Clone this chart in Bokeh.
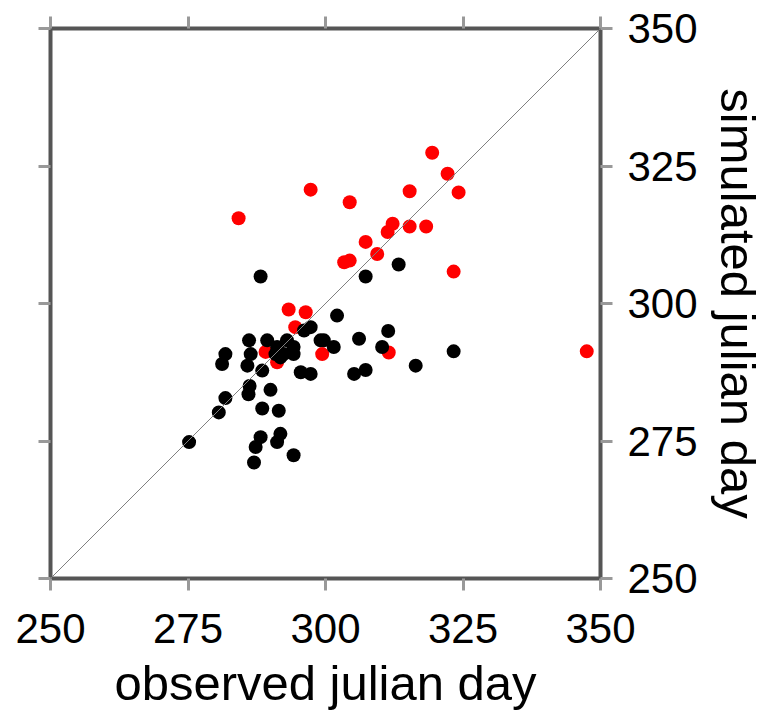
from bokeh.plotting import figure
from bokeh.models import Range1d, LinearAxis, FixedTicker, CustomJSTickFormatter, Slope, ColumnDataSource
from bokeh.embed import file_html
from bokeh.resources import INLINE

# axis range and ticks
axis_min = 250
axis_max = 350
ticks = [250, 275, 300, 325, 350]

# red series (observed, simulated)
red_obs = [284.2, 297.3, 304.4, 319.4, 322.2, 324.2, 315.3, 312.2, 311.3, 315.3,
           318.3, 307.3, 309.4, 303.4, 304.4, 323.3, 293.3, 296.4, 289.1, 291.2,
           299.4, 311.5, 347.5, 294.5]
red_sim = [315.5, 320.7, 318.4, 327.4, 323.6, 320.2, 320.4, 314.5, 313.0, 314.0,
           314.0, 311.2, 309.0, 307.5, 307.8, 305.8, 298.9, 298.4, 291.2, 289.3,
           290.8, 291.1, 291.3, 295.7]

# black series (observed, simulated)
black_obs = [275.2, 288.2, 307.3, 313.3, 302.1, 286.1, 289.4, 281.8, 281.2, 286.4,
             285.8, 288.5, 286.2, 286.0, 290.0, 290.9, 281.8, 280.6, 293.0, 292.4,
             296.1, 297.3, 294.2, 299.7, 301.5, 295.5, 297.3, 291.2, 288.5, 291.5,
             288.2, 287.3, 287.0, 291.8, 291.2, 294.2, 306.1, 311.4, 310.3, 323.3,
             316.4, 305.2, 307.3, 299.1, 291.8, 294.2]
black_sim = [274.8, 304.9, 304.9, 307.1, 297.8, 293.3, 293.3, 290.8, 289.0, 290.8,
             288.7, 287.8, 285.0, 283.5, 284.3, 290.8, 282.8, 280.2, 293.3, 290.8,
             295.1, 295.7, 292.1, 293.3, 292.1, 287.5, 287.2, 292.1, 280.9, 280.5,
             275.7, 273.9, 271.1, 276.3, 274.8, 272.4, 293.6, 295.0, 292.1, 291.3,
             288.7, 287.2, 287.9, 293.3, 290.2, 290.8]

FONT = "Liberation Sans"
TICK_COLOR = "#999999"
FRAME_COLOR = "#555555"

p = figure(frame_width=550, frame_height=550,
           min_border_left=50, min_border_top=28, min_border_right=10, min_border_bottom=10,
           x_range=Range1d(axis_min, axis_max), y_range=Range1d(axis_min, axis_max),
           x_axis_location="below", y_axis_location="right",
           output_backend="svg", toolbar_location=None,
           background_fill_color="white", border_fill_color="white")

p.xgrid.visible = False
p.ygrid.visible = False
p.outline_line_color = FRAME_COLOR
p.outline_line_width = 4

def style_axis(ax, labels=True):
    ax.ticker = FixedTicker(ticks=ticks)
    ax.axis_line_color = None
    ax.major_tick_line_color = TICK_COLOR
    ax.major_tick_line_width = 3
    ax.major_tick_out = 12
    ax.major_tick_in = 0
    ax.minor_tick_line_color = None
    if labels:
        ax.major_label_text_font = FONT
        ax.major_label_text_font_size = "42px"
        ax.major_label_text_color = "black"
        ax.major_label_standoff = 15
        ax.axis_label_text_font = FONT
        ax.axis_label_text_font_size = "49px"
        ax.axis_label_text_font_style = "normal"
        ax.axis_label_text_color = "black"
    else:
        ax.formatter = CustomJSTickFormatter(code="return ''")

xax = p.xaxis[0]
style_axis(xax)
xax.axis_label = "observed julian day"
xax.major_label_standoff = 23
xax.axis_label_standoff = 10
xax.major_label_text_line_height = 1.0
xax.axis_label_text_line_height = 1.0

yax = p.yaxis[0]
style_axis(yax)
yax.axis_label = "simulated julian day"
yax.axis_label_standoff = 10
yax.major_label_text_align = "left"

left_ax = LinearAxis()
style_axis(left_ax, labels=False)
p.add_layout(left_ax, "left")
top_ax = LinearAxis()
style_axis(top_ax, labels=False)
p.add_layout(top_ax, "above")

p.add_layout(Slope(gradient=1, y_intercept=0, line_color="#808080", line_width=1))

red_src = ColumnDataSource(dict(x=red_obs, y=red_sim))
black_src = ColumnDataSource(dict(x=black_obs, y=black_sim))
p.scatter("x", "y", source=red_src, size=14, fill_color="#ff0000", line_color=None)
p.scatter("x", "y", source=black_src, size=14, fill_color="#000000", line_color=None)

open("out.html", "w").write(file_html(p, INLINE))
